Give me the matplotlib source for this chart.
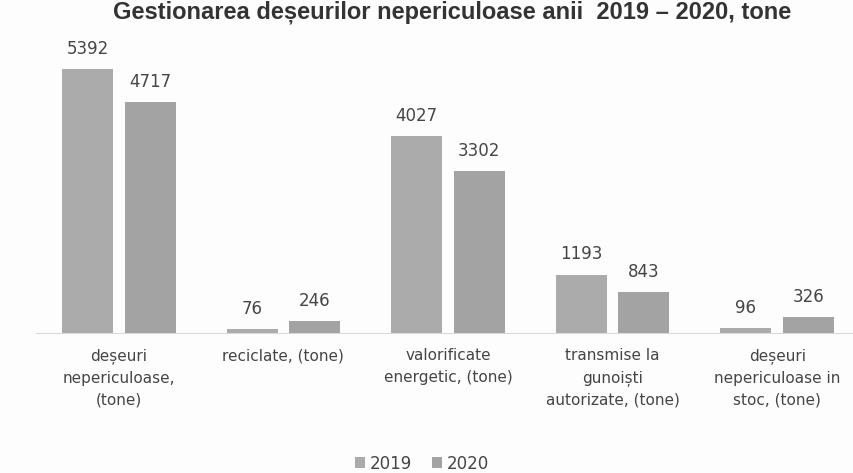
import numpy as np
import matplotlib.pyplot as plt

categories = ["deșeuri\nnepericuloase,\n(tone)", "reciclate, (tone)",
              "valorificate\nenergetic, (tone)", "transmise la\ngunoiști\nautorizate, (tone)",
              "deșeuri\nnepericuloase in\nstoc, (tone)"]
values_2019 = [5392, 76, 4027, 1193, 96]
values_2020 = [4717, 246, 3302, 843, 326]
years = ["2019", "2020"]

color_2019 = "#ababab"
color_2020 = "#a3a3a3"
text_color = "#454545"
bg = "#fdfdfd"

fig = plt.figure(figsize=(8.54, 4.73), dpi=100, facecolor=bg)
ax = fig.add_axes([0.0427, 0.296, 0.9637, 0.6216], facecolor=bg)

x = np.arange(len(categories))
w = 0.31
off = 0.19
b1 = ax.bar(x - off, values_2019, w, color=color_2019, label=years[0])
b2 = ax.bar(x + off, values_2020, w, color=color_2020, label=years[1])

for bars in (b1, b2):
    for rect in bars:
        h = rect.get_height()
        ax.annotate(f"{int(h)}", (rect.get_x() + rect.get_width() / 2, h),
                    xytext=(0, 8), textcoords="offset points", ha="center", va="bottom",
                    fontsize=12, color=text_color, family="DejaVu Sans")

ax.set_xlim(-0.5, len(categories) - 0.5)
ax.set_ylim(0, 6000)
ax.set_yticks([])
ax.set_xticks(x)
ax.set_xticklabels(categories, fontsize=11, color=text_color, family="DejaVu Sans",
                   linespacing=1.55)
ax.tick_params(axis="x", length=0, pad=11)
for s in ["top", "right", "left"]:
    ax.spines[s].set_visible(False)
ax.spines["bottom"].set_color("#d9d9d9")

fig.text(0.53, 0.999, "Gestionarea deșeurilor nepericuloase anii  2019 – 2020, tone",
         ha="center", va="top", fontsize=17, fontweight="bold", fontstretch="normal",
         color="#333333", family="Liberation Sans")

fig.legend(handles=[b1, b2], labels=years, loc="center", bbox_to_anchor=(0.494, 0.02),
           ncol=2, frameon=False, handlelength=0.6, handleheight=0.6,
           handletextpad=0.3, columnspacing=1.2, labelcolor=text_color,
           prop={"family": "DejaVu Sans", "size": 12})

fig.savefig("out.png", dpi=100, facecolor=bg)
